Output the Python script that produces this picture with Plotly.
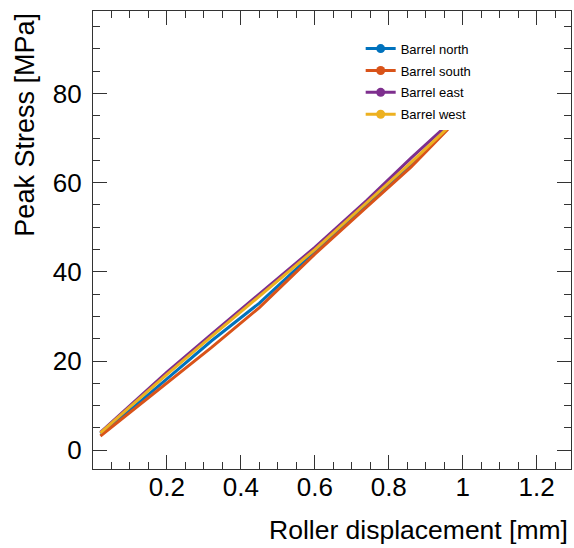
import plotly.graph_objects as go

x_north = [0.02, 0.1, 0.2, 0.32, 0.45, 0.6, 0.74, 0.86, 0.955]
y_north = [3.8, 9.0, 16.0, 24.5, 33.0, 44.5, 55.0, 64.0, 72.0]
x_south = [0.02, 0.1, 0.2, 0.32, 0.45, 0.6, 0.74, 0.86, 0.960]
y_south = [3.2, 8.5, 15.0, 23.0, 32.0, 44.0, 54.5, 63.5, 72.0]
x_east = [0.02, 0.1, 0.2, 0.32, 0.45, 0.6, 0.74, 0.86, 0.946]
y_east = [4.0, 10.0, 17.5, 26.0, 35.0, 45.5, 56.0, 65.5, 72.0]
x_west = [0.02, 0.1, 0.2, 0.32, 0.45, 0.6, 0.74, 0.86, 0.956]
y_west = [3.9, 9.8, 17.0, 25.5, 34.5, 45.0, 55.5, 64.5, 72.0]

names = ["Barrel north", "Barrel south", "Barrel east", "Barrel west"]
colors = ["#0072BD", "#D95319", "#7E2F8E", "#EDB120"]
xs = [x_north, x_south, x_east, x_west]
ys = [y_north, y_south, y_east, y_west]

x_ticks = [0.2, 0.4, 0.6, 0.8, 1.0, 1.2]
x_ticktext = ["0.2", "0.4", "0.6", "0.8", "1", "1.2"]
y_ticks = [0, 20, 40, 60, 80]

FONT = "Liberation Sans, Arial, sans-serif"

fig = go.Figure()
for n, c, x, y in zip(names, colors, xs, ys):
    fig.add_trace(go.Scatter(x=x, y=y, mode="lines", line=dict(color=c, width=3),
                             showlegend=False, hoverinfo="skip"))
for n, c in zip(names, colors):
    fig.add_trace(go.Scatter(x=[None], y=[None], mode="lines+markers", name=n, legendgroup=n,
                             line=dict(color=c, width=3), marker=dict(color=c, size=9)))

axis_common = dict(
    showgrid=False, zeroline=False, showline=True, linecolor="#333", linewidth=1.3,
    mirror="allticks", ticks="inside", ticklen=14, tickwidth=1.3, tickcolor="#333",
    tickfont=dict(family=FONT, size=26, color="black"),
)

fig.update_layout(
    width=574, height=548,
    margin=dict(l=93, r=3, t=11, b=79),
    paper_bgcolor="white", plot_bgcolor="white",
    font=dict(family=FONT, color="black"),
    xaxis=dict(range=[0.0, 1.293], tickvals=x_ticks, ticktext=x_ticktext,
               minor=dict(dtick=0.05, tick0=0, ticks="inside", ticklen=7, tickwidth=1.3, tickcolor="#333"),
               ticklabelstandoff=-5, **axis_common),
    yaxis=dict(range=[-4.2, 98.5], tickvals=y_ticks,
               minor=dict(dtick=5, tick0=0, ticks="inside", ticklen=7, tickwidth=1.3, tickcolor="#333"),
               ticklabelstandoff=5, **axis_common),
    legend=dict(x=0.56, y=0.741, xanchor="left", yanchor="bottom",
                font=dict(family=FONT, size=13, color="black"),
                bgcolor="white", tracegroupgap=2, itemwidth=30),
    annotations=[
        dict(text="Roller displacement [mm]", xref="paper", yref="paper", x=0.997, y=-0.134,
             xanchor="right", yanchor="middle", showarrow=False,
             font=dict(family=FONT, size=26.5, color="black")),
        dict(text="Peak Stress [MPa]", xref="paper", yref="paper", x=-0.143, y=1.0,
             xanchor="center", yanchor="top", textangle=-90, showarrow=False,
             font=dict(family=FONT, size=27, color="black")),
    ],
)

fig.write_html("out.html")
